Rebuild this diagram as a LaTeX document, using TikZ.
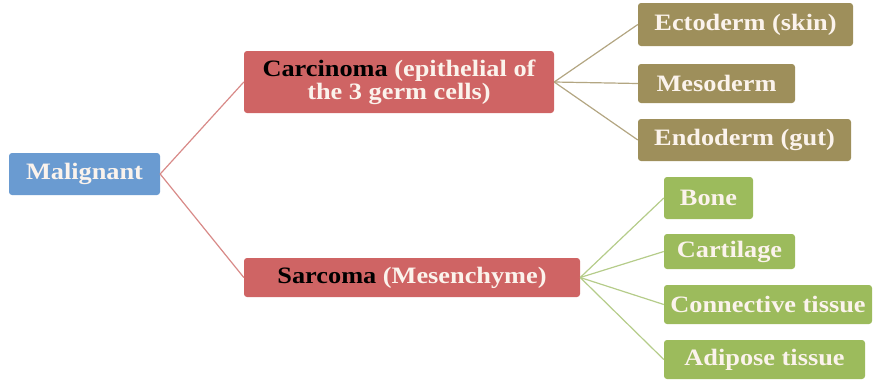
\documentclass[tikz,border=0pt]{standalone}
\usepackage{fontspec}
\setmainfont[FakeStretch=1.12]{Liberation Serif}
\definecolor{cblue}{HTML}{6A9BD1}
\definecolor{cred}{HTML}{CF6464}
\definecolor{colive}{HTML}{9E8F5B}
\definecolor{cgreen}{HTML}{9CBB5C}
\definecolor{lred}{HTML}{D88A88}
\definecolor{lgreen}{HTML}{B5CC8A}
\definecolor{lolive}{HTML}{B3A682}
\definecolor{ltext}{HTML}{FBF3EC}
\begin{document}
\begin{tikzpicture}[x=1pt,y=-1pt,
  box/.style={rounded corners=3pt, inner sep=0pt, align=center, text=ltext,
    font=\fontsize{23.5}{23}\selectfont\bfseries},
  bluebox/.style={box, fill=cblue},
  redbox/.style={box, fill=cred},
  olivebox/.style={box, fill=colive},
  greenbox/.style={box, fill=cgreen},
  redline/.style={draw=lred, line width=1.2pt},
  oliveline/.style={draw=lolive, line width=1.2pt},
  greenline/.style={draw=lgreen, line width=1.2pt}]
\useasboundingbox (0,0) rectangle (874,381);
\node[bluebox, minimum width=151, minimum height=42] (mal) at (84.5,174) {Malignant};
\node[redbox, minimum width=310, minimum height=62] (car) at (399,82) {\textcolor{black}{Carcinoma} (epithelial of\\the 3 germ cells)};
\node[redbox, minimum width=336, minimum height=39] (sar) at (412,277.5) {\textcolor{black}{Sarcoma} (Mesenchyme)};
\node[olivebox, minimum width=215, minimum height=43] (ect) at (745.5,24.5) {Ectoderm (skin)};
\node[olivebox, minimum width=157, minimum height=39] (mes) at (716.5,83.5) {Mesoderm};
\node[olivebox, minimum width=213, minimum height=42] (end) at (744.5,140) {Endoderm (gut)};
\node[greenbox, minimum width=89, minimum height=42] (bone) at (708.5,198) {Bone};
\node[greenbox, minimum width=131, minimum height=35] (cart) at (729.5,251.5) {Cartilage};
\node[greenbox, minimum width=208, minimum height=39] (conn) at (768,304.5) {Connective tissue};
\node[greenbox, minimum width=201, minimum height=39] (adip) at (764.5,359.5) {Adipose tissue};
\draw[redline] (car.west) -- (mal.east) -- (sar.west);
\foreach \t in {ect,mes,end} \draw[oliveline] (car.east) -- (\t.west);
\foreach \t in {bone,cart,conn,adip} \draw[greenline] (sar.east) -- (\t.west);
\end{tikzpicture}
\end{document}
